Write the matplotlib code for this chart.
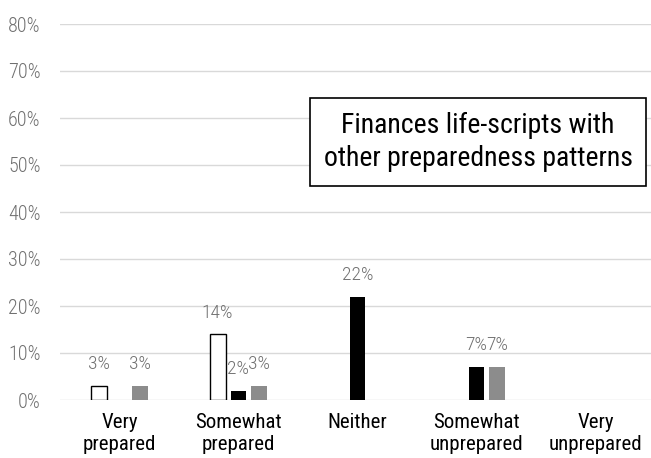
import matplotlib

matplotlib.use("Agg")
import matplotlib.pyplot as plt
from matplotlib import font_manager
import numpy as np

categories = ["Very\nprepared", "Somewhat\nprepared", "Neither", "Somewhat\nunprepared", "Very\nunprepared"]
# percentages per pattern; None means no bar drawn
series_white = [3, 14, None, None, None]
series_black = [None, 2, 22, 7, None]
series_gray = [3, 3, None, 7, None]
yticks = [0, 10, 20, 30, 40, 50, 60, 70, 80]
box_text = "Finances life-scripts with\nother preparedness patterns"

# prefer a narrow face if one is installed
installed = {f.name for f in font_manager.fontManager.ttflist}
preferred = ["Roboto Condensed", "Liberation Sans Narrow", "Open Sans Condensed", "Roboto"]
family = next((name for name in preferred if name in installed), "DejaVu Sans")
plt.rcParams["font.family"] = [family, "DejaVu Sans"]

fig = plt.figure(figsize=(6.51, 4.58), dpi=100)
ax = fig.add_axes([60 / 651, 1 - 400 / 458, 591 / 651, 376 / 458])

x = np.arange(len(categories))
width = 0.134
offset = 0.176
styles = [
    (series_white, -offset, dict(facecolor="white", edgecolor="black", linewidth=1.0)),
    (series_black, 0.0, dict(facecolor="black", edgecolor="black", linewidth=0)),
    (series_gray, offset, dict(facecolor="#8c8c8c", edgecolor="#8c8c8c", linewidth=0)),
]
for values, dx, kw in styles:
    for xi, v in zip(x, values):
        if v is None:
            continue
        ax.bar(xi + dx, v, width=width, zorder=3, **kw)
        ax.text(xi + dx, v + 2.7, f"{v}%", ha="center", va="bottom",
                fontsize=14, color="#707070", fontweight="light")

ax.set_xlim(-0.5, -0.5 + 591 / 119)
ax.set_ylim(0, 80)
ax.set_yticks(yticks)
ax.set_yticklabels([f"{t}%" for t in yticks], color="#707070", fontsize=14.5, fontweight="light")
ax.set_xticks(x)
ax.set_xticklabels(categories, fontsize=15, color="black", linespacing=1.25)
ax.tick_params(axis="both", length=0)
ax.tick_params(axis="x", pad=9)
ax.tick_params(axis="y", pad=14)
ax.grid(axis="y", color="#d9d9d9", linewidth=1.0, zorder=0)
for side in ["top", "right", "left", "bottom"]:
    ax.spines[side].set_visible(False)

ax.text((478 - 60) / 591, (400 - 142) / 376, box_text, transform=ax.transAxes,
        ha="center", va="center", fontsize=20, color="black", linespacing=1.3,
        bbox=dict(boxstyle="square,pad=0.5", facecolor="white", edgecolor="black", linewidth=1.2),
        zorder=5)

fig.savefig("out.png", dpi=100)
